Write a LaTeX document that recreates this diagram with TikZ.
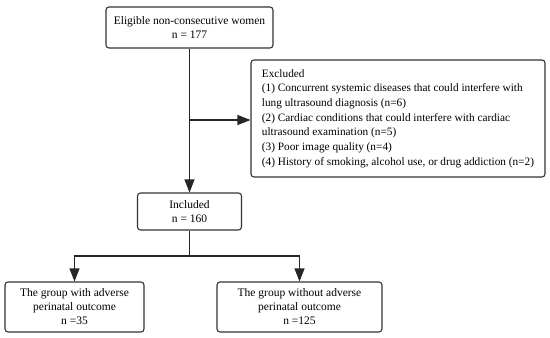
\documentclass[tikz,border=0pt]{standalone}
\usepackage{fontspec}
\setmainfont{Liberation Serif}
\usetikzlibrary{arrows.meta,calc}
\begin{document}
\begin{tikzpicture}[x=1pt,y=-1pt,
  box/.style={draw=black!80,line width=1.1pt,rounded corners=3pt,inner sep=0pt,font=\fontsize{11.5}{14}\selectfont,align=center},
  arr/.style={line width=1.1pt,draw=black!85,-{Triangle[length=13pt,width=10pt,fill=black!85]}},
  ln/.style={line width=1.1pt,draw=black!85}]
\useasboundingbox (0,0) rectangle (550,338);
\node[box,minimum width=294pt,minimum height=117pt,align=left,font=\fontsize{11.3}{14.7}\selectfont] (exc) at (398,118.5) {Excluded\\
(1) Concurrent systemic diseases that could interfere with\\
lung ultrasound diagnosis (n=6)\\
(2) Cardiac conditions that could interfere with cardiac\\
ultrasound examination (n=5)\\
(3) Poor image quality (n=4)\\
(4) History of smoking, alcohol use, or drug addiction (n=2)};
\node[box,minimum width=167pt,minimum height=41pt] (top) at (189.5,27.5) {Eligible non-consecutive women\\n = 177};
\node[box,minimum width=104pt,minimum height=37pt] (inc) at (189.5,211.5) {Included\\n = 160};
\node[box,minimum width=139pt,minimum height=50pt] (lb) at (74.5,307) {The group with adverse\\perinatal outcome\\n =35};
\node[box,minimum width=165pt,minimum height=50pt] (rb) at (299.5,307) {The group without adverse\\perinatal outcome\\n =125};
\coordinate (b1) at (189.5,120);
\coordinate (s) at (189.5,256);
\draw[arr] (top.south) -- (inc.north);
\draw[arr] (b1) -- (b1 -| exc.west);
\draw[ln] (inc.south) -- (s);
\draw[arr] (s) -| (lb.north);
\draw[arr] (s) -| (rb.north);
\end{tikzpicture}
\end{document}
